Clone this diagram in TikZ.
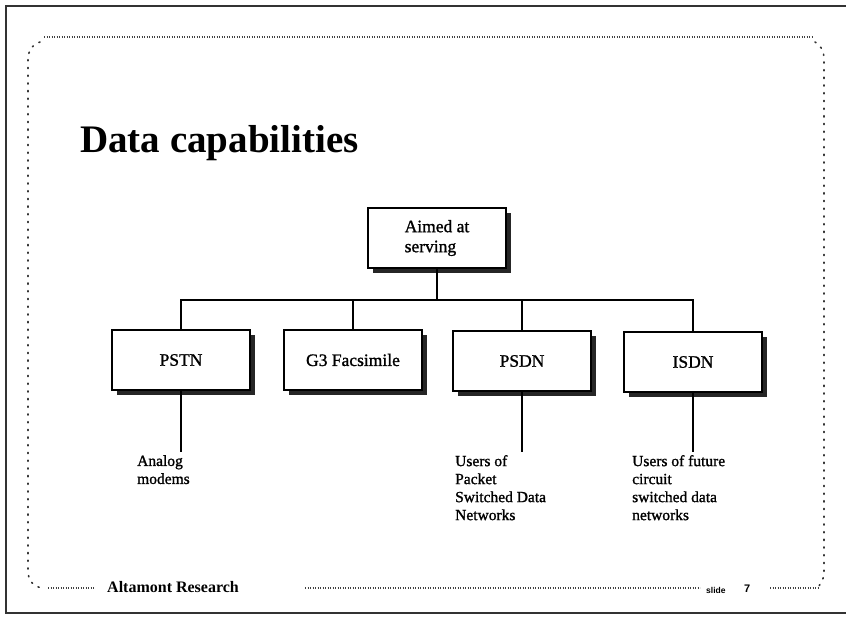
\documentclass[tikz,border=0pt]{standalone}
\usepackage{fontspec}
\setmainfont{Liberation Serif}
\newfontfamily\semib[FakeBold=1.2]{Liberation Serif}
\newfontfamily\footsans{Liberation Sans}
\usetikzlibrary{shadows}
\begin{document}
\begin{tikzpicture}[x=1pt,y=-1pt,
  stepbox/.style={draw, fill=white, line width=1.5pt, minimum width=138pt, minimum height=60pt,
     inner sep=0pt, font=\semib\fontsize{17.5}{20}\selectfont,
     drop shadow={shadow xshift=5pt, shadow yshift=-5pt, fill=black!85, opacity=1}},
  conn/.style={line width=1.8pt},
  lbl/.style={anchor=north west, align=left, inner sep=0pt, font=\semib\fontsize{15.5}{18}\selectfont},
  densedot/.style={line width=1.1pt, dash pattern=on 0.9pt off 1.6pt, black!75},
  sparsedot/.style={line width=1.6pt, dash pattern=on 1.2pt off 6.5pt, black!80, line cap=round}
]
\useasboundingbox (0,0) rectangle (846,623);
\fill[white] (0,0) rectangle (846,623);
% outer frame
\draw[line width=2.5pt, black!80] (846,6) -- (6,6) -- (6,613) -- (846,613);
% dotted frame
\draw[densedot] (44,37) -- (812,37);
\draw[densedot] (48,588) -- (95,588);
\draw[densedot] (305,588) -- (700,588);
\draw[densedot] (770,588) -- (818,588);
\draw[sparsedot] (40,42) .. controls (30,46) and (28,52) .. (28,60) -- (28,570) .. controls (28,580) and (32,586) .. (42,588);
\draw[sparsedot] (815,42) .. controls (822,46) and (824,52) .. (824,60) -- (824,570) .. controls (824,580) and (821,585) .. (816,588);
% title
\node[anchor=base west, inner sep=0pt, font=\fontsize{39}{42}\selectfont\bfseries] (title) at (80,153) {Data capabilities};
% boxes
\node[stepbox, align=left] (root) at (437,238) {Aimed at\\serving};
\node[stepbox] (pstn) at (181,360) {PSTN};
\node[stepbox] (g3) at (353,360) {G3 Facsimile};
\node[stepbox] (psdn) at (522,361) {PSDN};
\node[stepbox] (isdn) at (693,362) {ISDN};
% bus
\coordinate (bus) at (437,300);
\draw[conn] (root.south) -- (bus);
\draw[conn] (pstn.north) |- (bus) -| (isdn.north);
\draw[conn] (g3.north) -- (g3.north |- bus);
\draw[conn] (psdn.north) -- (psdn.north |- bus);
% lines down
\coordinate (pe) at (181,452);
\coordinate (pde) at (522,452);
\coordinate (ie) at (693,452);
\draw[conn] (pstn.south) -- (pe);
\draw[conn] (psdn.south) -- (pde);
\draw[conn] (isdn.south) -- (ie);
% labels
\node[lbl] (l1) at (137,455) {Analog\\modems};
\node[lbl] (l2) at (455,455) {Users of\\Packet\\Switched Data\\Networks};
\node[lbl] (l3) at (632,455) {Users of future\\circuit\\switched data\\networks};
% footer
\node[anchor=west, inner sep=0pt, font=\fontsize{16}{18}\selectfont\bfseries] (foot) at (107,587) {Altamont Research};
\node[anchor=west, inner sep=0pt, font=\footsans\fontsize{8.5}{10}\selectfont\bfseries] (slide) at (706,590) {slide};
\node[anchor=west, inner sep=0pt, font=\footsans\fontsize{11}{13}\selectfont\bfseries] (num) at (744,589) {7};
\end{tikzpicture}
\end{document}
